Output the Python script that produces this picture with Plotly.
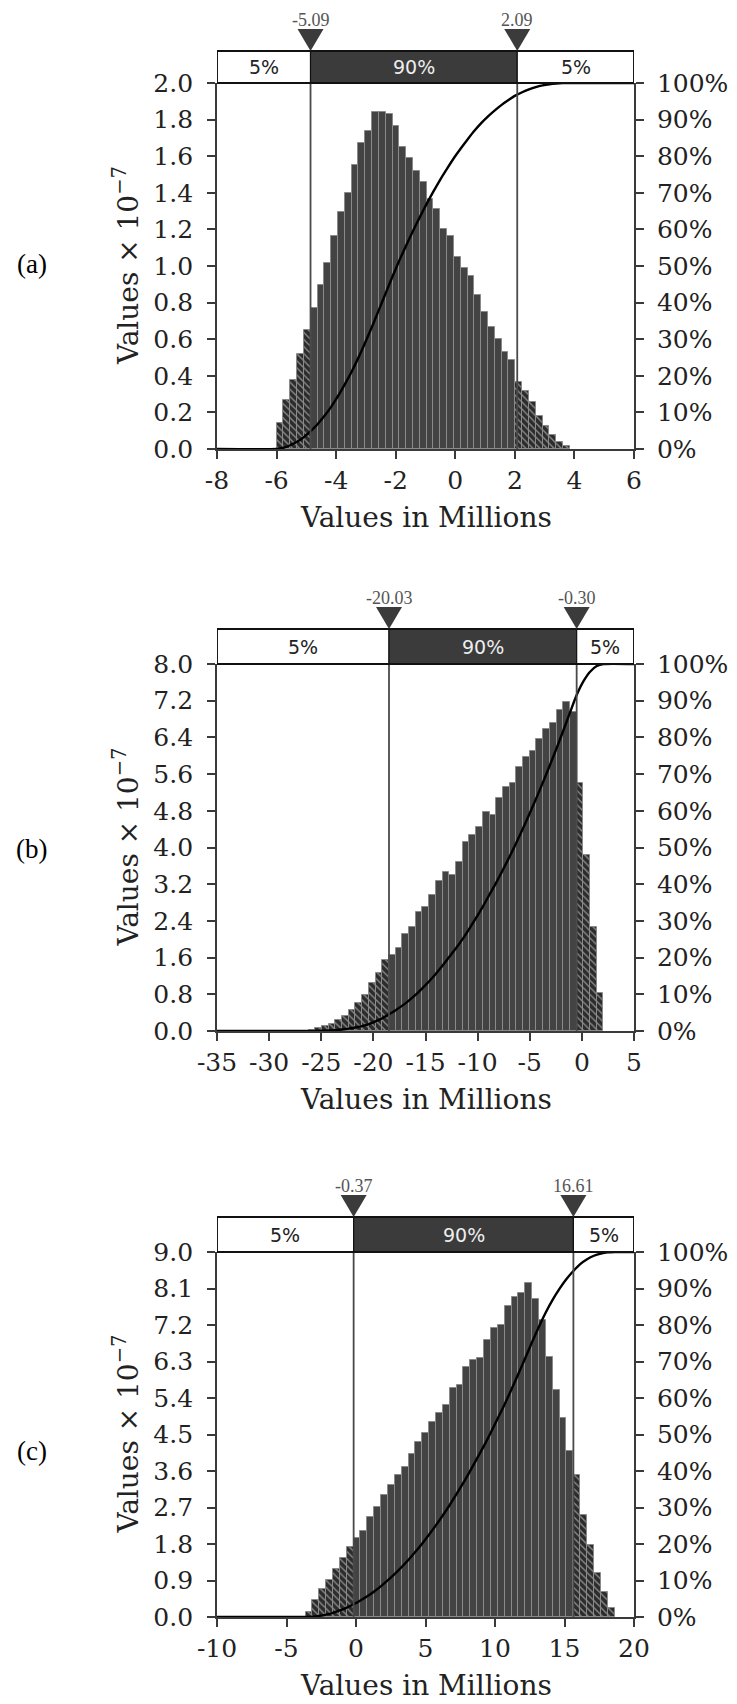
import plotly.graph_objects as go

W, H = 737, 1704

# ---------------- data ----------------
panel_labels = ["(a)", "(b)", "(c)"]
band_labels = ["5%", "90%", "5%"]
y_title = "Values × 10<sup>−7</sup>"
x_title = "Values in Millions"

# panel (a)
a_heights = [0.140, 0.270, 0.379, 0.517, 0.650, 0.769, 0.898, 1.015, 1.164, 1.297,
             1.397, 1.552, 1.670, 1.738, 1.843, 1.843, 1.831, 1.767, 1.652, 1.588,
             1.521, 1.457, 1.366, 1.311, 1.202, 1.166, 1.051, 0.987, 0.947, 0.842,
             0.750, 0.665, 0.601, 0.528, 0.488, 0.368, 0.319, 0.255, 0.182, 0.128,
             0.077, 0.040, 0.018]
a_bin_start = -6.0
a_bin_width = 0.229
a_cutoffs = [-4.86, 2.08]
a_cutoff_labels = ["-5.09", "2.09"]
a_xrange = [-8, 6]
a_xticks = [-8, -6, -4, -2, 0, 2, 4, 6]
a_yticks = [0.0, 0.2, 0.4, 0.6, 0.8, 1.0, 1.2, 1.4, 1.6, 1.8, 2.0]

# panel (b)
b_heights = [0.03, 0.06, 0.10, 0.16, 0.24, 0.33, 0.45, 0.60, 0.78, 1.05,
             1.26, 1.55, 1.66, 1.80, 2.11, 2.27, 2.59, 2.71, 2.97, 3.26,
             3.47, 3.40, 3.69, 4.13, 4.27, 4.45, 4.78, 4.71, 5.09, 5.31,
             5.40, 5.75, 5.98, 6.11, 6.36, 6.58, 6.71, 7.00, 7.18, 6.96,
             5.41, 3.84, 2.27, 0.82]
b_bin_start = -26.22
b_bin_width = 0.643
b_cutoffs = [-18.5, -0.5]
b_cutoff_labels = ["-20.03", "-0.30"]
b_xrange = [-35, 5]
b_xticks = [-35, -30, -25, -20, -15, -10, -5, 0, 5]
b_yticks = [0.0, 0.8, 1.6, 2.4, 3.2, 4.0, 4.8, 5.6, 6.4, 7.2, 8.0]

# panel (c)
c_heights = [0.13, 0.42, 0.68, 0.91, 1.18, 1.45, 1.73,
             1.96, 2.12, 2.47, 2.72, 3.01, 3.25, 3.49, 3.71, 4.02, 4.31,
             4.53, 4.80, 5.04, 5.23, 5.64, 5.72, 6.17, 6.34, 6.39, 6.84,
             7.13, 7.20, 7.67, 7.88, 8.00, 8.23, 7.83, 7.32, 6.42, 5.60,
             4.91, 4.09,
             3.50, 2.51, 1.77, 1.09, 0.62, 0.21]
c_bin_start = -3.63
c_bin_width = 0.494
c_cutoffs = [-0.17, 15.64]
c_cutoff_labels = ["-0.37", "16.61"]
c_xrange = [-10, 20]
c_xticks = [-10, -5, 0, 5, 10, 15, 20]
c_yticks = [0.0, 0.9, 1.8, 2.7, 3.6, 4.5, 5.4, 6.3, 7.2, 8.1, 9.0]

cdf_ticks = [0.0, 0.1, 0.2, 0.3, 0.4, 0.5, 0.6, 0.7, 0.8, 0.9, 1.0]

panels = [
    dict(h=a_heights, start=a_bin_start, w=a_bin_width, cut=a_cutoffs, cutlab=a_cutoff_labels,
         xr=a_xrange, xt=a_xticks, yt=a_yticks),
    dict(h=b_heights, start=b_bin_start, w=b_bin_width, cut=b_cutoffs, cutlab=b_cutoff_labels,
         xr=b_xrange, xt=b_xticks, yt=b_yticks),
    dict(h=c_heights, start=c_bin_start, w=c_bin_width, cut=c_cutoffs, cutlab=c_cutoff_labels,
         xr=c_xrange, xt=c_xticks, yt=c_yticks),
]

# ---------------- layout geometry (pixels) ----------------
PL, PR = 217, 634
tops = [83, 664, 1252]
bots = [449, 1031, 1617]
head_h = [32, 35, 35]
label_y = [264, 849, 1451]


def xp(px):
    return px / W


def yp(py):
    return 1 - py / H


DARK = "#3b3b3b"
AX = "#3a3a3a"
TXT = "#222222"
tickfont = dict(family="DejaVu Serif", size=25, color=TXT)
titlefont = dict(family="DejaVu Serif", size=28, color=TXT)

fig = go.Figure()
layout = dict(
    width=W, height=H, margin=dict(l=0, r=0, t=0, b=0),
    paper_bgcolor="white", plot_bgcolor="white", showlegend=False,
    template="none", bargap=0,
)
shapes = []
annotations = []


def note(**kw):
    kw.setdefault("showarrow", False)
    kw.setdefault("xanchor", "center")
    kw.setdefault("yanchor", "middle")
    annotations.append(kw)


for i, p in enumerate(panels):
    xa = "x" if i == 0 else f"x{i + 1}"
    yl = "y" if i == 0 else f"y{2 * i + 1}"
    yr = f"y{2 * i + 2}"
    xkey = "xaxis" if i == 0 else f"xaxis{i + 1}"
    ylkey = "yaxis" if i == 0 else f"yaxis{2 * i + 1}"
    yrkey = f"yaxis{2 * i + 2}"

    n = len(p["h"])
    centers = [p["start"] + p["w"] * (k + 0.5) for k in range(n)]
    c0, c1 = p["cut"]
    pshapes = ["" if c0 <= cx <= c1 else "\\" for cx in centers]

    fig.add_trace(go.Bar(
        x=centers, y=p["h"], width=[p["w"]] * n, xaxis=xa, yaxis=yl,
        marker=dict(color="#434343", line=dict(color="#8a8a8a", width=1),
                    pattern=dict(shape=pshapes, fgcolor="#8c8c8c", bgcolor="#2c2c2c",
                                 size=5, solidity=0.28)),
        hoverinfo="skip",
    ))

    # cumulative curve from histogram
    total = sum(p["h"])
    cx = [p["xr"][0], p["start"]]
    cy = [0.0, 0.0]
    acc = 0.0
    for k, hv in enumerate(p["h"]):
        acc += hv
        cx.append(p["start"] + p["w"] * (k + 1))
        cy.append(acc / total)
    cx.append(p["xr"][1])
    cy.append(1.0)
    fig.add_trace(go.Scatter(
        x=cx, y=cy, mode="lines", xaxis=xa, yaxis=yr,
        line=dict(color="black", width=2.4, shape="spline", smoothing=0.6),
        hoverinfo="skip",
    ))

    ymax = p["yt"][-1]
    common = dict(ticks="outside", ticklen=8, tickwidth=1.5, tickcolor=AX,
                  showline=True, linecolor=AX, linewidth=1.8,
                  showgrid=False, zeroline=False, automargin=False, tickfont=tickfont)
    layout[xkey] = dict(
        domain=[xp(PL), xp(PR)], range=p["xr"], anchor=yl,
        tickvals=p["xt"], ticktext=[str(v) for v in p["xt"]],
        ticklabelstandoff=0, **common,
    )
    layout[ylkey] = dict(
        domain=[yp(bots[i]), yp(tops[i])], range=[0, ymax], anchor=xa, side="left",
        tickvals=p["yt"], ticktext=[f"{v:.1f}" for v in p["yt"]],
        ticklabelstandoff=9, **common,
    )
    layout[yrkey] = dict(
        overlaying=yl, range=[0, 1], anchor=xa, side="right",
        tickvals=cdf_ticks, ticktext=[f"{int(round(v * 100))}%" for v in cdf_ticks],
        ticklabelstandoff=8, **common,
    )

    # cutoff lines
    for c in p["cut"]:
        shapes.append(dict(type="line", xref=xa, yref=f"{yl} domain", x0=c, x1=c, y0=0, y1=1,
                           line=dict(color="#4a4a4a", width=1.8), layer="above"))

    # header band
    hy0 = yp(tops[i])
    hy1 = yp(tops[i] - head_h[i])
    segs = [(p["xr"][0], c0, "white"), (c0, c1, DARK), (c1, p["xr"][1], "white")]
    for (s0, s1, col), txt in zip(segs, band_labels):
        shapes.append(dict(type="rect", xref=xa, yref="paper", x0=s0, x1=s1, y0=hy0, y1=hy1,
                           fillcolor=col, line=dict(color="#111111", width=1.2), layer="above"))
        note(x=(s0 + s1) / 2, xref=xa, y=(hy0 + hy1) / 2, yref="paper", text=txt,
             font=dict(family="DejaVu Sans", size=19,
                       color="#eeeeee" if col == DARK else TXT))
    shapes.append(dict(type="rect", xref=xa, yref="paper", x0=p["xr"][0], x1=p["xr"][1],
                       y0=hy0, y1=hy1, line=dict(color="#111111", width=1.8), layer="above"))

    # triangles and their labels
    for c, lab in zip(p["cut"], p["cutlab"]):
        shapes.append(dict(type="path", xref=xa, yref="paper", xsizemode="pixel", ysizemode="pixel",
                           xanchor=c, yanchor=hy1, path="M-13,22 L13,22 L0,0 Z",
                           fillcolor=DARK, line=dict(width=0), layer="above"))
        note(x=c, xref=xa, y=yp(tops[i] - head_h[i] - 31), yref="paper", text=lab,
             font=dict(family="Liberation Serif", size=18, color="#555555"))

    # titles
    note(x=xp(127), xref="paper", y=yp((tops[i] + bots[i]) / 2), yref="paper",
         text=y_title, textangle=-90, font=titlefont)
    note(x=xp((PL + PR) / 2), xref="paper", y=yp(bots[i] + 68), yref="paper",
         text=x_title, font=titlefont)
    note(x=xp(32), xref="paper", y=yp(label_y[i]), yref="paper", text=panel_labels[i],
         font=dict(family="Liberation Serif", size=27, color="black"))

layout["shapes"] = shapes
layout["annotations"] = annotations
fig.update_layout(**layout)

fig.write_html("out.html", config={"displayModeBar": False},
               post_script="document.body.style.margin='0';document.body.style.padding='0';")
